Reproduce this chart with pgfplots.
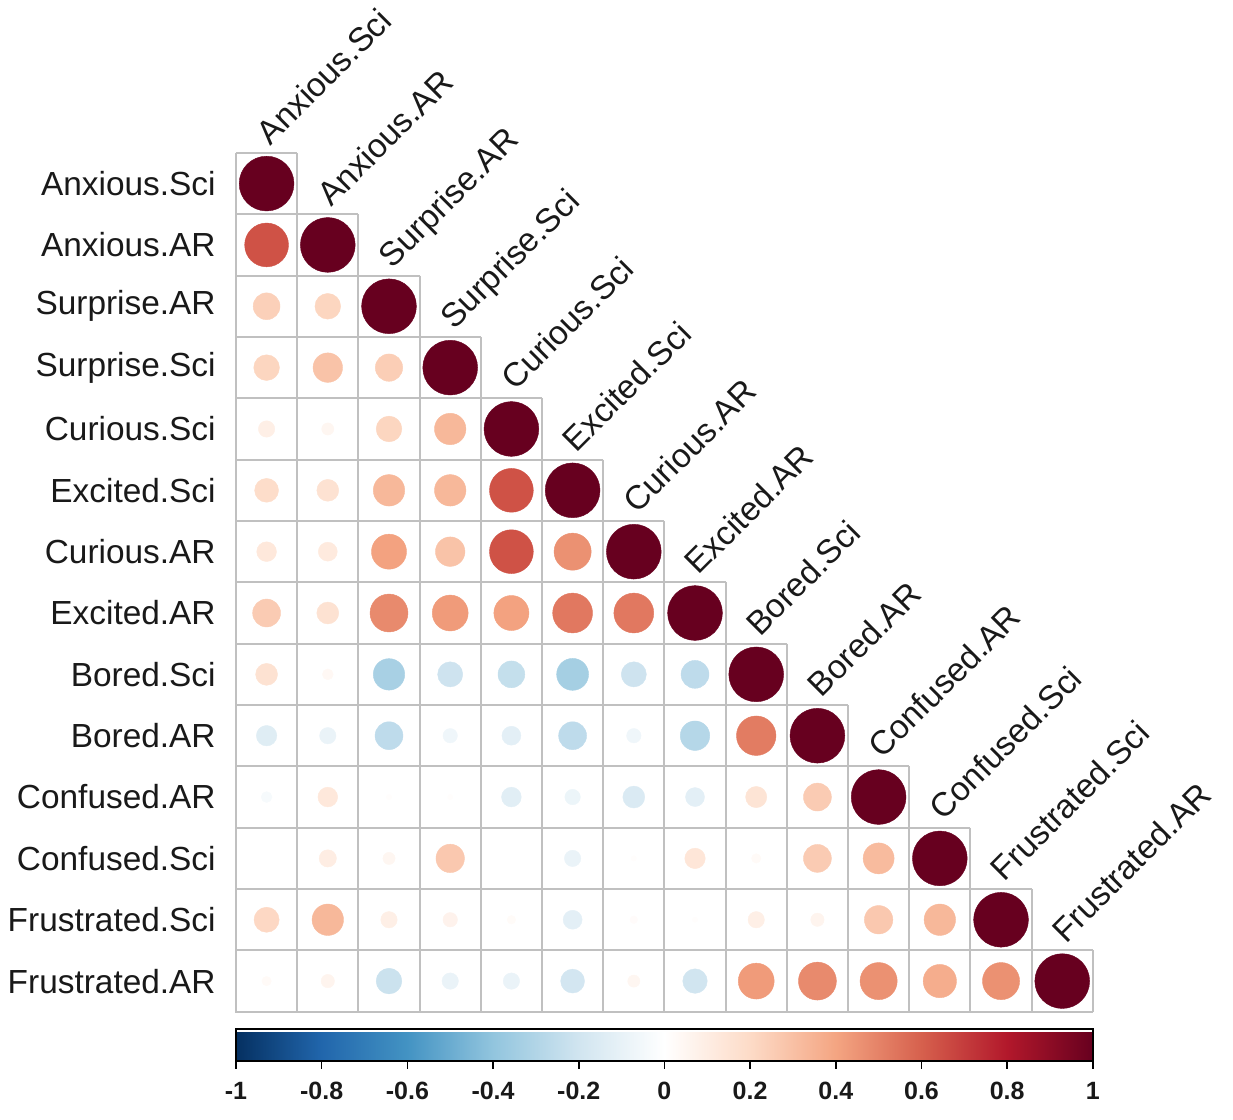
\documentclass[border=0pt]{standalone}
\usepackage{pgfplots}
\pgfplotsset{compat=1.18}
\usepackage{pgfplotstable}
\usepackage{fontspec}
\setmainfont{Liberation Sans}
\definecolor{gridc}{RGB}{192,192,192}
\definecolor{labc}{RGB}{25,25,25}

\pgfplotstableread{
x y r
1 14 1.00
1 13 0.64
2 13 1.00
1 12 0.24
2 12 0.22
3 12 1.00
1 11 0.22
2 11 0.29
3 11 0.25
4 11 1.00
1 10 0.09
2 10 0.05
3 10 0.22
4 10 0.33
5 10 1.00
1 9 0.19
2 9 0.16
3 9 0.33
4 9 0.33
5 9 0.64
6 9 1.00
1 8 0.13
2 8 0.12
3 8 0.41
4 8 0.29
5 8 0.64
6 8 0.46
7 8 1.00
1 7 0.26
2 7 0.16
3 7 0.48
4 7 0.43
5 7 0.41
6 7 0.53
7 7 0.53
8 7 1.00
1 6 0.16
2 6 0.04
3 6 -0.33
4 6 -0.21
5 6 -0.24
6 6 -0.34
7 6 -0.21
8 6 -0.26
9 6 1.00
1 5 -0.14
2 5 -0.09
3 5 -0.26
4 5 -0.07
5 5 -0.12
6 5 -0.26
7 5 -0.07
8 5 -0.29
9 5 0.52
10 5 1.00
1 4 -0.04
2 4 0.13
3 4 0.01
4 4 0.01
5 4 -0.13
6 4 -0.08
7 4 -0.16
8 4 -0.12
9 4 0.15
10 4 0.26
11 4 1.00
1 3 0.0
2 3 0.10
3 3 0.05
4 3 0.27
5 3 0.0
6 3 -0.09
7 3 0.01
8 3 0.14
9 3 0.03
10 3 0.26
11 3 0.32
12 3 1.00
1 2 0.21
2 2 0.33
3 2 0.09
4 2 0.07
5 2 0.025
6 2 -0.12
7 2 0.02
8 2 0.01
9 2 0.09
10 2 0.06
11 2 0.27
12 2 0.33
13 2 1.00
1 1 0.03
2 1 0.06
3 1 -0.22
4 1 -0.09
5 1 -0.09
6 1 -0.19
7 1 0.05
8 1 -0.20
9 1 0.43
10 1 0.48
11 1 0.46
12 1 0.37
13 1 0.46
14 1 1.00
}\corr

\begin{document}
\begin{tikzpicture}
\begin{axis}[
  scale only axis,
  width=428.5pt, height=429.5pt,
  xmin=0.5, xmax=14.5, ymin=0.5, ymax=14.5,
  clip=false,
  axis line style={draw=none},
  xtick=\empty,
  ytick={1,...,14},
  yticklabels={Frustrated.AR,Frustrated.Sci,Confused.Sci,Confused.AR,Bored.AR,Bored.Sci,Excited.AR,Curious.AR,Excited.Sci,Curious.Sci,Surprise.Sci,Surprise.AR,Anxious.AR,Anxious.Sci},
  ytick style={draw=none},
  yticklabel style={font=\fontsize{16.7}{19}\selectfont, text=labc, inner sep=0pt, xshift=-10pt},
  colormap={rdbu}{rgb255=(5,48,97) rgb255=(33,102,172) rgb255=(67,147,195) rgb255=(146,197,222) rgb255=(209,229,240) rgb255=(255,255,255) rgb255=(253,219,199) rgb255=(244,165,130) rgb255=(214,96,77) rgb255=(178,24,43) rgb255=(103,0,31)},
  point meta min=-1, point meta max=1,
  colorbar horizontal,
  colorbar style={
    at={([yshift=-9pt]parent axis.south west)}, anchor=north west,
    scale only axis,
    width=428.5pt, height=16pt,
    axis line style={line width=0.8pt, black},
    xtick={-1,-0.8,-0.6,-0.4,-0.2,0,0.2,0.4,0.6,0.8,1},
    xticklabels={-1,-0.8,-0.6,-0.4,-0.2,0,0.2,0.4,0.6,0.8,1},
    xtick align=outside, xtick pos=left, major tick length=4pt,
    xtick style={black, line width=0.8pt},
    xticklabel style={font=\bfseries\fontsize{12.5}{14}\selectfont, text=labc, yshift=-3pt},
    ytick=\empty,
  },
]
% grid
\draw[gridc, line width=1pt] (axis cs:0.5,14.5) -- (axis cs:0.5,0.5) -- (axis cs:14.5,0.5);
\pgfplotsinvokeforeach{1,...,14}{
  \draw[gridc, line width=1pt] (axis cs:{#1+0.5},{15.5-#1}) -- (axis cs:{#1+0.5},0.5);
  \draw[gridc, line width=1pt] (axis cs:0.5,{15.5-#1}) -- (axis cs:{#1+0.5},{15.5-#1});
}
\addplot[
  scatter, only marks, mark=*,
  point meta=explicit,
  scatter/use mapped color={draw=mapped color, fill=mapped color},
  mark options={line width=0.2pt},
  visualization depends on={13.7*sqrt(abs(\thisrow{r})) \as \rad},
  scatter/@pre marker code/.append style={/tikz/mark size=\rad},
] table[x=x, y=y, meta=r] {\corr};

% column labels
\tikzset{collab/.style={rotate=45, anchor=base west, inner sep=0pt, text=labc, font=\fontsize{16.7}{19}\selectfont}}
\node[collab] at (axis cs:1.06,14.6) {Anxious.Sci};
\node[collab] at (axis cs:2.06,13.6) {Anxious.AR};
\node[collab] at (axis cs:3.06,12.6) {Surprise.AR};
\node[collab] at (axis cs:4.06,11.6) {Surprise.Sci};
\node[collab] at (axis cs:5.06,10.6) {Curious.Sci};
\node[collab] at (axis cs:6.06,9.6) {Excited.Sci};
\node[collab] at (axis cs:7.06,8.6) {Curious.AR};
\node[collab] at (axis cs:8.06,7.6) {Excited.AR};
\node[collab] at (axis cs:9.06,6.6) {Bored.Sci};
\node[collab] at (axis cs:10.06,5.6) {Bored.AR};
\node[collab] at (axis cs:11.06,4.6) {Confused.AR};
\node[collab] at (axis cs:12.06,3.6) {Confused.Sci};
\node[collab] at (axis cs:13.06,2.6) {Frustrated.Sci};
\node[collab] at (axis cs:14.06,1.6) {Frustrated.AR};

% bounding box to match reference proportions
\path (axis cs:-3.356,-1.26) rectangle (axis cs:16.79,16.993);
\end{axis}
\end{tikzpicture}
\end{document}
